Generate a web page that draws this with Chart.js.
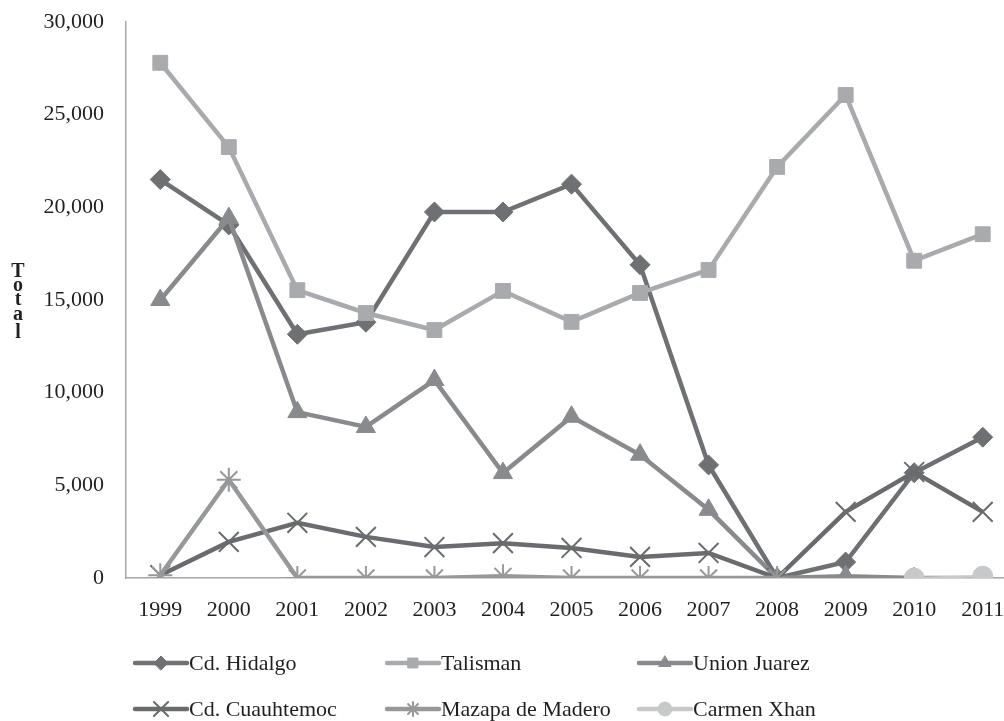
<!DOCTYPE html>
<html>
<head>
<meta charset="utf-8">
<script src="https://cdn.jsdelivr.net/npm/chart.js@4/dist/chart.umd.min.js"></script>
<style>
  html, body { margin: 0; padding: 0; background: #fff; overflow: hidden; }
  #wrap { width: 1004px; height: 721px; overflow: hidden; }
  #chart { display: block; }
</style>
</head>
<body>
<div id="wrap"><canvas id="chart" width="1033" height="721"></canvas></div>
<script>
// datos del grafico
const years = ['1999', '2000', '2001', '2002', '2003', '2004', '2005', '2006', '2007', '2008', '2009', '2010', '2011'];
const yTicks = [0, 5000, 10000, 15000, 20000, 25000, 30000];

const hidalgo     = [21500, 19050, 13150, 13800, 19750, 19750, 21250, 16900, 6100, 0, 860, 5680, 7600];
const talisman    = [27800, 23250, 15530, 14300, 13380, 15490, 13820, 15380, 16620, 22180, 26060, 17120, 18550];
const unionJuarez = [15000, 19420, 8950, 8150, 10680, 5660, 8700, 6650, 3680, 0, 100, 0, 0];
const cuauhtemoc  = [150, 1950, 2980, 2220, 1670, 1880, 1620, 1140, 1350, 0, 3570, 5720, 3570];
const mazapa      = [150, 5300, 0, 0, 0, 90, 0, 0, 0, 0, null, null, null];
const carmenXhan  = [null, null, null, null, null, null, null, null, null, null, null, 0, 100];

const serif = '"Liberation Serif", "DejaVu Serif", serif';

function serie(label, data, color, style, radius, width, order) {
  return {
    label: label,
    data: data,
    borderColor: color,
    backgroundColor: color,
    pointBackgroundColor: color,
    pointBorderColor: color,
    borderWidth: width,
    pointStyle: style,
    pointRadius: radius,
    pointHoverRadius: radius,
    pointBorderWidth: (style === 'crossRot' || style === 'star') ? 2 : 1,
    tension: 0,
    spanGaps: false,
    order: order
  };
}

const datasets = [
  serie('Cd. Hidalgo', hidalgo, '#6f7073', 'rectRot', 10, 4.5, 5),
  serie('Talisman', talisman, '#a9aaad', 'rect', 10.5, 4.5, 4),
  serie('Union Juarez', unionJuarez, '#898a8d', 'triangle', 11, 4.5, 3),
  serie('Cd. Cuauhtemoc', cuauhtemoc, '#6a6b6e', 'crossRot', 14, 4.5, 2),
  serie('Mazapa de Madero', mazapa, '#97989b', 'star', 12, 4.5, 1),
  serie('Carmen Xhan', carmenXhan, '#c7c8ca', 'circle', 10, 2.5, 0)
];

// leyenda en cuadricula (3 columnas, 2 filas) y titulo vertical
const extras = {
  id: 'extras',
  afterDraw(chart) {
    const ctx = chart.ctx;
    ctx.save();
    // titulo "Total" en letras apiladas
    ctx.fillStyle = '#231f20';
    ctx.font = 'bold 20px ' + serif;
    ctx.textAlign = 'center';
    ctx.textBaseline = 'alphabetic';
    const letters = 'Total'.split('');
    const base = [277, 291, 305, 320, 338];
    letters.forEach((ch, i) => ctx.fillText(ch, 18, base[i]));

    // leyenda
    const cols = [135, 387, 639];
    const rows = [663, 709];
    chart.data.datasets.forEach((ds, i) => {
      const x = cols[i % 3];
      const y = rows[Math.floor(i / 3)];
      ctx.strokeStyle = ds.borderColor;
      ctx.lineWidth = 4.5;
      ctx.lineCap = 'round';
      ctx.beginPath();
      ctx.moveTo(x, y);
      ctx.lineTo(x + 52, y);
      ctx.stroke();
      ctx.fillStyle = ds.borderColor;
      ctx.lineWidth = ds.pointBorderWidth;
      Chart.helpers.drawPoint(ctx, {
        pointStyle: ds.pointStyle,
        radius: ds.pointStyle === 'crossRot' ? 10 : 7,
        rotation: 0,
        borderWidth: ds.pointBorderWidth
      }, x + 26, y);
      ctx.fillStyle = '#231f20';
      ctx.font = '22px ' + serif;
      ctx.textAlign = 'left';
      ctx.textBaseline = 'middle';
      ctx.fillText(ds.label, x + 54, y + 1);
    });
    ctx.restore();
  }
};

const ctx = document.getElementById('chart').getContext('2d');
new Chart(ctx, {
  type: 'line',
  data: { labels: years, datasets: datasets },
  plugins: [extras],
  options: {
    responsive: false,
    animation: false,
    layout: { padding: { top: 22, right: 7, bottom: 0, left: 0 } },
    plugins: {
      legend: { display: false },
      tooltip: { enabled: false }
    },
    scales: {
      x: {
        offset: true,
        grid: { display: false },
        border: { display: true, color: '#a6a6a6', width: 1.5 },
        ticks: {
          color: '#231f20',
          padding: 11,
          font: { family: serif, size: 22 },
          maxRotation: 0,
          autoSkip: false
        },
        afterFit: (s) => { s.height = 143; s.paddingLeft = 0; s.paddingRight = 0; }
      },
      y: {
        min: 0,
        max: 30000,
        grid: { display: false },
        border: { display: true, color: '#a6a6a6', width: 1.5 },
        afterBuildTicks: (s) => { s.ticks = yTicks.map(v => ({ value: v })); },
        ticks: {
          color: '#231f20',
          padding: 14,
          font: { family: serif, size: 22 },
          callback: (v) => v.toLocaleString('en-US')
        },
        afterFit: (s) => { s.width = 126; s.paddingTop = 0; s.paddingBottom = 0; }
      }
    }
  }
});
</script>
</body>
</html>
